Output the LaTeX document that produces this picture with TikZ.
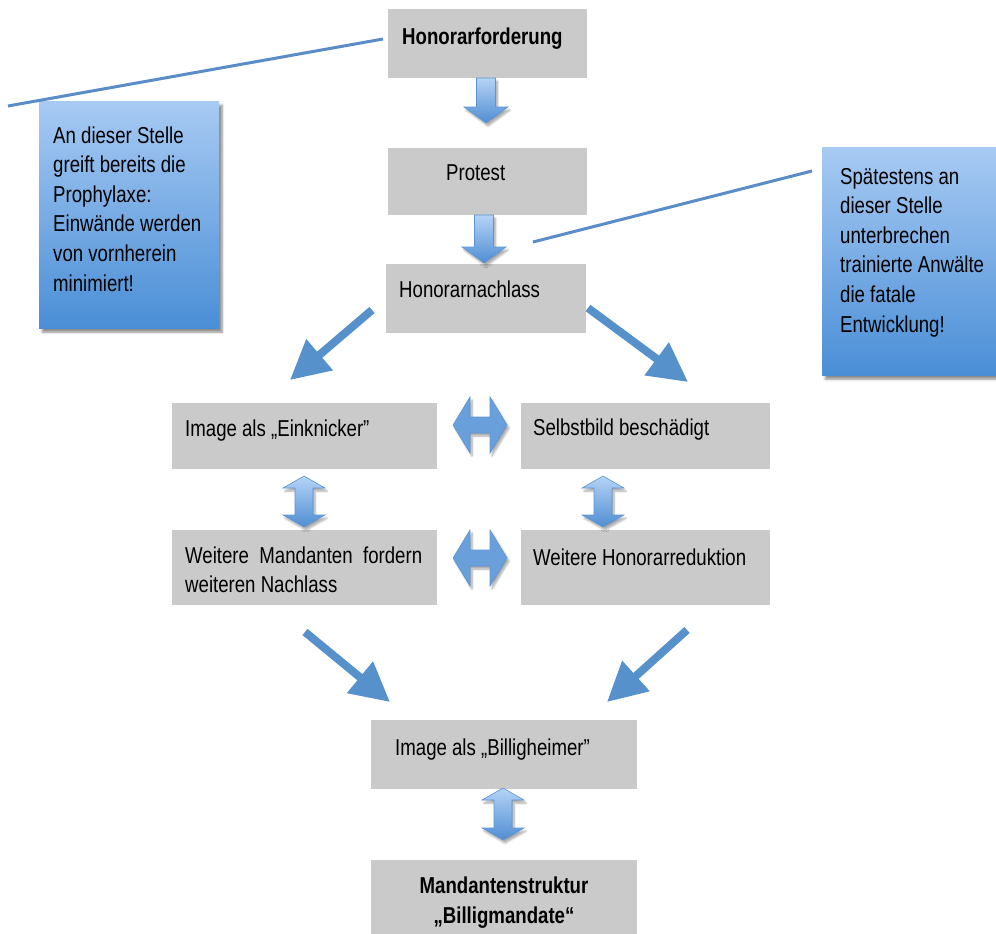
\documentclass[tikz,border=0pt]{standalone}
\usepackage{fontspec}
\setmainfont{Liberation Sans}[FakeStretch=0.81]
\usetikzlibrary{arrows.meta,shadows.blur,calc}
\definecolor{boxgray}{HTML}{CACACA}
\definecolor{arrblue}{HTML}{5691CC}
\definecolor{lineblue}{HTML}{5A8CC8}
\definecolor{lightblue}{HTML}{A7CAF3}
\definecolor{darkblue}{HTML}{4A8ED6}
\definecolor{palearrow}{HTML}{B5D3F6}
\definecolor{deeparrow}{HTML}{4F8ED3}
\definecolor{edgeblue}{HTML}{5E94D0}
\begin{document}
\begin{tikzpicture}[x=1pt,y=-1pt,
  font=\fontsize{23}{29.6}\selectfont,
  gbox/.style={fill=boxgray, draw=none, anchor=north west, inner sep=0pt},
  txt/.style={inner sep=0pt, anchor=base west},
  callout/.style={top color=lightblue, bottom color=darkblue, draw=none, anchor=north west, inner sep=0pt,
    blur shadow={shadow xshift=3pt, shadow yshift=-4pt, shadow blur steps=8, shadow opacity=45}},
  diag/.style={draw=arrblue, line width=8pt, -{Triangle[length=39pt,width=39pt]}},
  cline/.style={draw=lineblue, line width=3pt},
  blk/.style={draw=edgeblue, line width=0.6pt,
    blur shadow={shadow xshift=2pt, shadow yshift=-3pt, shadow blur steps=6, shadow opacity=35}},
  blkv/.style={blk, top color=palearrow, bottom color=deeparrow},
  blkh/.style={blk, top color=deeparrow!85, middle color=palearrow, bottom color=deeparrow!85},
  pics/downarr/.style={code={
    \path[blkv] (-9.5,0) -- (9.5,0) -- (9.5,{#1-16}) -- (22,{#1-16}) -- (0,#1)
      -- (-22,{#1-16}) -- (-9.5,{#1-16}) -- cycle;}},
  pics/vdbl/.style={code={
    \path[blkv] (0,0) -- (21,12) -- (9,12) -- (9,{#1-12}) -- (21,{#1-12}) -- (0,#1)
      -- (-21,{#1-12}) -- (-9,{#1-12}) -- (-9,12) -- (-21,12) -- cycle;}},
  pics/hdbl/.style={code={
    \path[blkh] (0,0) -- (17,-28) -- (17,-8) -- ({#1-17},-8) -- ({#1-17},-28) -- (#1,0)
      -- ({#1-17},28) -- ({#1-17},8) -- (17,8) -- (17,28) -- cycle;}}
]
\useasboundingbox (0,0) rectangle (996,934);

% grey boxes
\node[gbox, minimum width=199pt, minimum height=69pt] (b1) at (388,9) {};
\node[gbox, minimum width=199pt, minimum height=67pt] (b2) at (388,148) {};
\node[gbox, minimum width=200pt, minimum height=69pt] (b3) at (386,264) {};
\node[gbox, minimum width=265pt, minimum height=66pt] (b4) at (172,403) {};
\node[gbox, minimum width=249pt, minimum height=66pt] (b5) at (521,403) {};
\node[gbox, minimum width=265pt, minimum height=75pt] (b6) at (172,530) {};
\node[gbox, minimum width=249pt, minimum height=75pt] (b7) at (521,530) {};
\node[gbox, minimum width=266pt, minimum height=69pt] (b8) at (371,720) {};
\node[gbox, minimum width=266pt, minimum height=80pt] (b9) at (371,860) {};

% callouts
\node[callout, minimum width=180pt, minimum height=227pt] (c1) at (39,101) {};
\node[callout, minimum width=178pt, minimum height=228pt] (c2) at (822,147) {};

% texts
\node[txt] (t1) at (402,45) {\bfseries Honorarforderung};
\node[txt] (t2) at (446,180) {Protest};
\node[txt] (t3) at (399,297) {Honorarnachlass};
\node[txt] (t4) at (185,436) {Image als „Einknicker"};
\node[txt] (t5) at (533,435) {Selbstbild beschädigt};
\node[txt, text width=237pt, align=justify] (t6) at (185,563) {Weitere Mandanten fordern\linebreak weiteren Nachlass};
\node[txt] (t7) at (533,565) {Weitere Honorarreduktion};
\node[txt] (t8) at (395,755) {Image als „Billigheimer"};
\node[txt, anchor=base, align=center, font=\fontsize{23}{30}\selectfont\bfseries] (t9) at (504,923) {Mandantenstruktur\\„Billigmandate“};
\node[txt, text width=165pt, align=flush left] (t10) at (53,143) {An dieser Stelle\\greift bereits die\\Prophylaxe:\\Einwände werden\\von vornherein\\minimiert!};
\node[txt, text width=160pt, align=flush left] (t11) at (840,184) {Spätestens an\\dieser Stelle\\unterbrechen\\trainierte Anwälte\\die fatale\\Entwicklung!};

% callout leader lines
\coordinate (l1a) at (8,106);
\coordinate (l1b) at (383,39);
\coordinate (l2a) at (533,242);
\coordinate (l2b) at (812,171);
\draw[cline] (l1a) -- (l1b);
\draw[cline] (l2a) -- (l2b);

% block arrows
\pic at (486,78) {downarr=45};
\pic at (484,215) {downarr=48};
\pic at (304,476) {vdbl=51};
\pic at (603,476) {vdbl=51};
\pic at (503,788) {vdbl=52};
\pic at (453,425) {hdbl=54};
\pic at (453,558) {hdbl=54};

% diagonal arrows
\coordinate (d1s) at (372,310); \coordinate (d1e) at (290,380);
\coordinate (d2s) at (588,308); \coordinate (d2e) at (688,382);
\coordinate (d3s) at (305,632); \coordinate (d3e) at (390,702);
\coordinate (d4s) at (687,630); \coordinate (d4e) at (607,702);
\draw[diag] (d1s) -- (d1e);
\draw[diag] (d2s) -- (d2e);
\draw[diag] (d3s) -- (d3e);
\draw[diag] (d4s) -- (d4e);
\end{tikzpicture}
\end{document}
